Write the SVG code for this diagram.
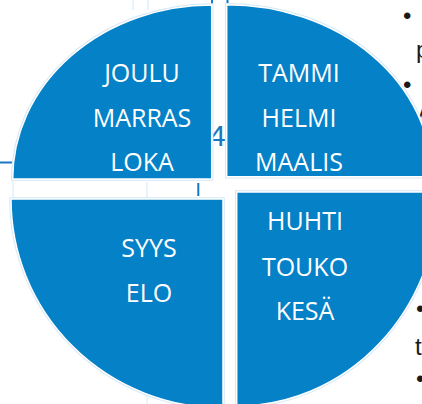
<svg xmlns="http://www.w3.org/2000/svg" xmlns:xlink="http://www.w3.org/1999/xlink" width="422" height="404" viewBox="0 0 422 404">
<style>
.halo{fill:none;stroke:#d6e8f6;stroke-width:3.5}
.q{fill:#0481c7;stroke:#ffffff;stroke-width:1.5}
.lbl{font-family:"Open Sans","Liberation Sans",sans-serif;font-size:25px;fill:#ffffff;text-anchor:middle}
.bg{font-family:"Liberation Sans",Arial,sans-serif;font-size:24px;fill:#1a1a1a}
.grid{stroke:#e3eef8;stroke-width:1.5}
.bl{stroke:#1677c2;stroke-width:2}
</style>
<defs>
<path id="pTL" d="M211.7,179 H12.7 A199,174 0 0 1 211.7,5 Z"/>
<path id="pTR" d="M226.7,176.7 V4.7 A205,172 0 0 1 431.7,176.7 Z"/>
<path id="pBL" d="M223,199 V408 A212,209 0 0 1 11,199 Z"/>
<path id="pBR" d="M236.7,192 H438.7 A202,214 0 0 1 236.7,406 Z"/>
</defs>
<rect width="422" height="404" fill="#ffffff"/>
<g id="background">
<line class="grid" x1="133" y1="0" x2="133" y2="10"/>
<line class="grid" x1="148" y1="0" x2="148" y2="10"/>
<line class="grid" x1="147" y1="182" x2="147" y2="198"/>
<line class="grid" x1="147" y1="385" x2="147" y2="404"/>
<line class="grid" x1="13" y1="180" x2="13" y2="199"/>
<line class="bl" x1="0" y1="162.5" x2="12" y2="162.5"/>
<line class="bl" x1="198.3" y1="183" x2="198.3" y2="196"/>
<line class="bl" x1="212" y1="0" x2="212" y2="6"/>
<line class="bl" x1="227.5" y1="0" x2="227.5" y2="3"/>
<text x="209" y="146" font-family="Liberation Sans,Arial,sans-serif" font-size="30" fill="#1677c2">4</text>
<text class="bg" x="403" y="24">•</text>
<text class="bg" x="416" y="58">p</text>
<text class="bg" x="403" y="93">•</text>
<text class="bg" x="413" y="120">v</text>
<text class="bg" x="414" y="279">•</text>
<text class="bg" x="416" y="317">•</text>
<text class="bg" x="415" y="355">t</text>
<text class="bg" x="416" y="387">•</text>
</g>
<g id="quadrant-tl">
<use xlink:href="#pTL" class="halo"/>
<use xlink:href="#pTL" class="q"/>
<text class="lbl" x="142" y="82">JOULU</text>
<text class="lbl" x="142" y="127">MARRAS</text>
<text class="lbl" x="142" y="171">LOKA</text>
</g>
<g id="quadrant-tr">
<use xlink:href="#pTR" class="halo"/>
<use xlink:href="#pTR" class="q"/>
<text class="lbl" x="299" y="82">TAMMI</text>
<text class="lbl" x="299" y="127">HELMI</text>
<text class="lbl" x="299" y="171">MAALIS</text>
</g>
<g id="quadrant-bl">
<use xlink:href="#pBL" class="halo"/>
<use xlink:href="#pBL" class="q"/>
<text class="lbl" x="149" y="257">SYYS</text>
<text class="lbl" x="149" y="302">ELO</text>
</g>
<g id="quadrant-br">
<use xlink:href="#pBR" class="halo"/>
<use xlink:href="#pBR" class="q"/>
<text class="lbl" x="305" y="230">HUHTI</text>
<text class="lbl" x="305" y="276">TOUKO</text>
<text class="lbl" x="305" y="320">KESÄ</text>
</g>
<g id="connectors"/>
</svg>
